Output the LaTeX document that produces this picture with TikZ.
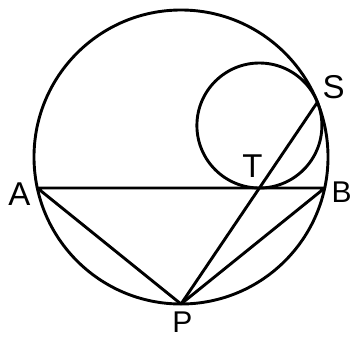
\documentclass[tikz,border=0pt]{standalone}
\usepackage{fontspec}
\setmainfont{Liberation Sans}
\begin{document}
\begin{tikzpicture}[x=1pt,y=-1pt,
  geo/.style={line width=2.9pt,black},
  lbl/.style={font=\fontsize{33}{33}\selectfont,inner sep=0pt}]
\useasboundingbox (0,0) rectangle (352,338);
\fill[white] (0,0) rectangle (352,338);
% points
\coordinate (O) at (181,157);
\coordinate (A) at (37.31,188);
\coordinate (B) at (324.69,188);
\coordinate (P) at (181,304);
\coordinate (C) at (259.4,125.5);
\coordinate (T) at (259.4,188);
\coordinate (S) at (317.4,102.2);
% circles
\draw[geo] (O) circle[radius=147];
\draw[geo] (C) circle[radius=62.5];
% segments
\draw[geo,line join=round] (A) -- (B) -- (P) -- cycle;
\draw[geo] (P) -- (S);
% labels
\node[lbl,anchor=base] (lA) at (19.5,205) {A};
\node[lbl,anchor=base west,font=\fontsize{30}{30}\selectfont] (lB) at (331.5,202) {B};
\node[lbl,anchor=base] (lS) at (333.5,98) {S};
\node[lbl,anchor=base] (lT) at (252.5,177) {T};
\node[lbl,anchor=base,font=\fontsize{30}{30}\selectfont] (lP) at (182.5,332.5) {P};
\end{tikzpicture}
\end{document}
